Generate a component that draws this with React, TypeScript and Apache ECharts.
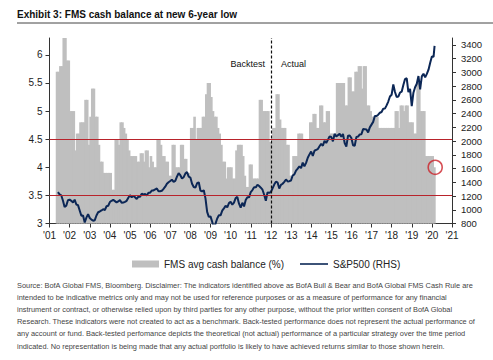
import React, { useEffect, useRef } from "react";
import * as echarts from "echarts";

// ---------- data ----------
const FONT = "'Liberation Sans', Arial, sans-serif";

// FMS average cash balance (%), monthly, first value = May 2001
const cashStart = { year: 2001, month: 5 };
const cashBalance: number[] = [
  // 2001 (May-Dec)
  5.7, 5.7, 5.8, 5.8, 6.3, 6.3, 5.9, 5.9,
  // 2002
  5.0, 5.0, 5.0, 4.3, 4.6, 4.6, 4.8, 4.8, 4.8, 5.2, 5.2, 4.4,
  // 2003
  4.9, 5.4, 5.4, 4.9, 4.9, 4.4, 4.1, 4.1, 3.9, 3.9, 3.9, 3.9,
  // 2004
  3.9, 3.6, 3.6, 4.5, 4.5, 4.4, 4.8, 4.8, 4.7, 4.6, 4.5, 4.3,
  // 2005
  4.2, 4.2, 4.2, 4.2, 4.1, 4.1, 4.25, 4.25, 4.1, 4.3, 4.3, 4.0,
  // 2006
  4.2, 4.1, 4.0, 4.0, 4.5, 4.5, 4.4, 4.2, 4.2, 4.1, 4.1, 3.85,
  // 2007
  3.85, 4.4, 4.4, 4.0, 4.0, 4.0, 4.4, 4.4, 4.15, 4.15, 3.9, 3.9,
  // 2008
  4.7, 4.7, 4.9, 4.5, 4.7, 4.7, 4.7, 4.9, 4.9, 5.3, 5.5, 5.5,
  // 2009
  5.25, 5.0, 4.9, 4.9, 4.7, 4.6, 4.4, 4.1, 4.1, 3.8, 4.0, 4.0,
  // 2010
  4.0, 3.8, 3.8, 4.3, 4.4, 4.4, 4.4, 4.2, 3.85, 3.65, 3.65, 4.05,
  // 2011
  4.05, 3.8, 3.8, 3.8, 3.8, 5.2, 5.2, 5.0, 5.0, 5.0, 5.0, 4.45,
  // 2012
  4.45, 4.7, 4.7, 5.3, 5.3, 4.85, 4.7, 4.7, 4.7, 4.4, 4.4, 3.85,
  // 2013
  3.85, 4.2, 4.2, 4.2, 4.6, 4.6, 4.6, 4.5, 4.5, 4.5, 4.5, 4.8,
  // 2014
  4.8, 4.95, 4.95, 4.7, 4.7, 5.1, 5.1, 4.8, 4.8, 5.0, 5.0, 4.6,
  // 2015
  4.6, 4.6, 4.6, 5.5, 5.5, 5.5, 5.5, 5.5, 5.1, 5.1, 5.6, 5.6,
  // 2016
  5.35, 5.35, 5.7, 5.7, 5.8, 5.8, 5.4, 5.8, 5.8, 5.1, 5.1, 5.0,
  // 2017
  4.9, 4.9, 4.9, 4.9, 4.7, 4.7, 4.7, 4.7, 4.7, 4.7, 4.7, 4.7,
  // 2018
  4.7, 4.7, 5.0, 5.0, 4.7, 5.1, 5.1, 5.0, 5.1, 5.1, 4.8, 4.8,
  // 2019
  4.8, 4.6, 4.6, 5.5, 5.5, 5.0, 5.0, 5.0, 4.2, 4.2, 4.2, 4.2,
  // 2020 (Jan-Feb)
  4.2, 4.0,
];

// S&P 500 month-end closes, first value = May 2001
const spStart = { year: 2001, month: 5 };
const sp500: number[] = [
  // 2001 (May-Dec)
  1256, 1224, 1211, 1134, 1041, 1060, 1139, 1148,
  // 2002
  1130, 1107, 1147, 1077, 1067, 990, 912, 916, 815, 886, 936, 880,
  // 2003
  856, 841, 848, 917, 964, 975, 990, 1008, 996, 1051, 1058, 1112,
  // 2004
  1131, 1145, 1126, 1107, 1121, 1141, 1102, 1104, 1115, 1130, 1174, 1212,
  // 2005
  1181, 1204, 1181, 1157, 1192, 1191, 1234, 1220, 1229, 1207, 1249, 1248,
  // 2006
  1280, 1281, 1295, 1311, 1270, 1270, 1277, 1304, 1336, 1378, 1401, 1418,
  // 2007
  1438, 1407, 1421, 1482, 1531, 1503, 1455, 1474, 1527, 1549, 1481, 1468,
  // 2008
  1379, 1331, 1323, 1386, 1400, 1280, 1267, 1283, 1166, 969, 896, 903,
  // 2009
  826, 735, 798, 873, 919, 919, 987, 1021, 1057, 1036, 1096, 1115,
  // 2010
  1074, 1104, 1169, 1187, 1089, 1031, 1102, 1049, 1141, 1183, 1181, 1258,
  // 2011
  1286, 1327, 1326, 1364, 1345, 1321, 1292, 1219, 1131, 1253, 1247, 1258,
  // 2012
  1312, 1366, 1408, 1398, 1310, 1362, 1379, 1407, 1441, 1412, 1416, 1426,
  // 2013
  1498, 1515, 1569, 1598, 1631, 1606, 1686, 1633, 1682, 1757, 1806, 1848,
  // 2014
  1783, 1859, 1872, 1884, 1924, 1960, 1931, 2003, 1972, 2018, 2068, 2059,
  // 2015
  1995, 2105, 2068, 2086, 2107, 2063, 2104, 1972, 1920, 2079, 2080, 2044,
  // 2016
  1940, 1932, 2060, 2065, 2097, 2099, 2174, 2171, 2168, 2126, 2199, 2239,
  // 2017
  2279, 2364, 2363, 2384, 2412, 2423, 2470, 2472, 2519, 2575, 2648, 2674,
  // 2018
  2824, 2714, 2641, 2648, 2705, 2718, 2816, 2902, 2914, 2712, 2760, 2507,
  // 2019
  2704, 2784, 2834, 2946, 2752, 2942, 2980, 2926, 2977, 3038, 3141, 3231,
  // 2020 (Jan)
  3226,
];
const spLatest = { date: "2020-02-19", value: 3386 };

// highlighted latest FMS reading
const latestReading = { year: 2020, month: 2, value: 4.0 };

const cashLines = [4.5, 3.5];
const splitYear = 2012;

const title = "Exhibit 3: FMS cash balance at new 6-year low";
const footnote = [
  "Source: BofA Global FMS, Bloomberg. Disclaimer: The indicators identified above as BofA Bull & Bear and BofA Global FMS Cash Rule are",
  "intended to be indicative metrics only and may not be used for reference purposes or as a measure of performance for any financial",
  "instrument or contract, or otherwise relied upon by third parties for any other purpose, without the prior written consent of BofA Global",
  "Research. These indicators were not created to act as a benchmark. Back-tested performance does not represent the actual performance of",
  "any account or fund. Back-tested perfomance depicts the theoretical (not actual) performance of a particular strategy over the time period",
  "indicated. No representation is being made that any actual portfolio is likely to have achieved returns similar to those shown herein.",
];

// ---------- helpers ----------
const midMonth = (year: number, month: number) => year + (month - 0.5) / 12;
const monthEnd = (year: number, month: number) => year + month / 12;
const dateToYear = (d: string) => {
  const [y, m, day] = d.split("-").map(Number);
  const start = Date.UTC(y, 0, 1);
  const end = Date.UTC(y + 1, 0, 1);
  return y + (Date.UTC(y, m - 1, day) - start) / (end - start);
};

const cashData = cashBalance.map((v, i) => {
  const idx = cashStart.month - 1 + i;
  return [midMonth(cashStart.year + Math.floor(idx / 12), (idx % 12) + 1), v];
});
const spData = sp500.map((v, i) => {
  const idx = spStart.month - 1 + i;
  return [monthEnd(spStart.year + Math.floor(idx / 12), (idx % 12) + 1), v];
});
spData.push([dateToYear(spLatest.date), spLatest.value]);

const BAR_NAME = "FMS avg cash balance (%)";
const LINE_NAME = "S&P500 (RHS)";
const LINE_COLOR = "#0c2756";

export default function App() {
  const ref = useRef<HTMLDivElement>(null);
  useEffect(() => {
    const chart = echarts.init(ref.current!, null, { renderer: "svg" });
    const legendText = { fontSize: 10, color: "#222", fontFamily: FONT };
    chart.setOption({
      animation: false,
      backgroundColor: "#ffffff",
      textStyle: { fontFamily: FONT },
      grid: { left: 49.5, right: 41, top: 38, bottom: 136.5 },
      legend: [
        {
          left: 127,
          top: 254,
          itemWidth: 27,
          itemHeight: 7,
          textStyle: legendText,
          data: [{ name: BAR_NAME, icon: "rect" }],
        },
        {
          left: 295,
          top: 254,
          itemWidth: 28,
          itemHeight: 1.6,
          textStyle: legendText,
          data: [{ name: LINE_NAME, icon: "rect", itemStyle: { color: LINE_COLOR } }],
        },
      ],
      xAxis: {
        type: "value",
        min: 2001,
        max: 2021,
        interval: 1,
        axisLine: { lineStyle: { color: "#333", width: 1 } },
        axisTick: { length: 4, lineStyle: { color: "#333" } },
        axisLabel: {
          fontSize: 10,
          color: "#222",
          margin: 7,
          fontFamily: FONT,
          formatter: (v: number) => "'" + String(Math.round(v) % 100).padStart(2, "0"),
        },
        splitLine: { show: false },
      },
      yAxis: [
        {
          type: "value",
          min: 3,
          max: 6.3,
          interval: 0.5,
          axisLine: { show: true, lineStyle: { color: "#333" } },
          axisTick: { show: true, length: 4, lineStyle: { color: "#333" } },
          axisLabel: { fontSize: 10, color: "#222", margin: 7, showMaxLabel: false, fontFamily: FONT },
          splitLine: { show: false },
        },
        {
          type: "value",
          min: 800,
          max: 3500,
          interval: 200,
          position: "right",
          axisLine: { show: true, lineStyle: { color: "#333" } },
          axisTick: { show: true, length: 4, lineStyle: { color: "#333" } },
          axisLabel: {
            fontSize: 9.5,
            color: "#222",
            margin: 9,
            showMaxLabel: false,
            fontFamily: FONT,
            formatter: (v: number) => String(v),
          },
          splitLine: { show: false },
        },
      ],
      series: [
        {
          name: BAR_NAME,
          type: "bar",
          yAxisIndex: 0,
          data: cashData,
          barWidth: 2.6,
          itemStyle: { color: "#bfbfbf" },
          z: 1,
          markLine: {
            silent: true,
            symbol: ["none", "none"],
            label: { show: false },
            lineStyle: { color: "#b8232b", width: 1, type: "solid" },
            data: cashLines.map((v) => ({ yAxis: v })),
          },
        },
        {
          name: LINE_NAME,
          type: "line",
          yAxisIndex: 1,
          data: spData,
          symbol: "none",
          clip: true,
          lineStyle: { color: LINE_COLOR, width: 2 },
          itemStyle: { color: LINE_COLOR },
          z: 3,
          markLine: {
            silent: true,
            symbol: ["none", "none"],
            label: { show: false },
            lineStyle: { color: "#111", width: 1.2, type: [3, 2] },
            data: [{ xAxis: splitYear }],
          },
        },
        {
          type: "scatter",
          yAxisIndex: 0,
          data: [[midMonth(latestReading.year, latestReading.month) + 0.04, latestReading.value]],
          symbol: "circle",
          symbolSize: 14,
          itemStyle: { color: "rgba(0,0,0,0)", borderColor: "#cc2229", borderWidth: 1.6 },
          z: 5,
          silent: true,
        },
      ],
      graphic: [
        {
          type: "text",
          x: 17,
          y: 9,
          style: { text: title, font: `bold 10px ${FONT}`, fill: "#111" },
        },
        {
          type: "line",
          shape: { x1: 17, y1: 23, x2: 493, y2: 23 },
          style: { stroke: "#444", lineWidth: 1 },
        },
        {
          type: "text",
          x: 265,
          y: 64,
          style: { text: "Backtest", font: `9px ${FONT}`, fill: "#111", align: "right", verticalAlign: "middle" },
        },
        {
          type: "text",
          x: 281,
          y: 64,
          style: { text: "Actual", font: `9px ${FONT}`, fill: "#111", align: "left", verticalAlign: "middle" },
        },
        {
          type: "text",
          x: 17,
          y: 279,
          style: { text: footnote.join("\n"), font: `7.4px ${FONT}`, lineHeight: 12.2, fill: "#444" },
        },
      ],
    });
    return () => chart.dispose();
  }, []);
  return <div ref={ref} style={{ position: "fixed", left: 0, top: 0, width: 493, height: 360 }} />;
}
